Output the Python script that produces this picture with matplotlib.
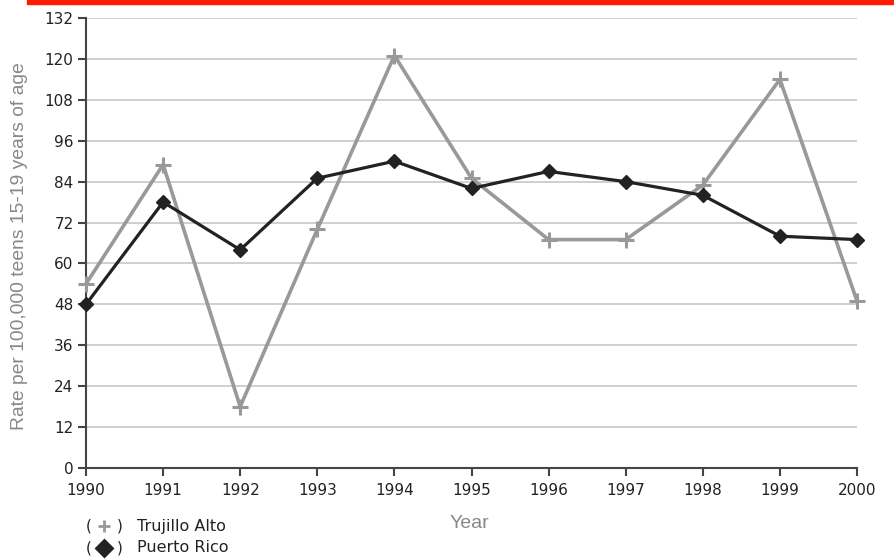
import matplotlib.pyplot as plt
from matplotlib.lines import Line2D
from matplotlib.patches import Rectangle

# Data
years = [1990, 1991, 1992, 1993, 1994, 1995, 1996, 1997, 1998, 1999, 2000]
trujillo_alto = [54, 89, 18, 70, 121, 85, 67, 67, 83, 114, 49]
puerto_rico = [48, 78, 64, 85, 90, 82, 87, 84, 80, 68, 67]
y_ticks = [0, 12, 24, 36, 48, 60, 72, 84, 96, 108, 120, 132]
y_labels = ['0', '12', '24', '36', '48', '60', '72', '84', '96', '108', '120', '132']

W, H = 894, 559
fig = plt.figure(figsize=(W / 100, H / 100), dpi=100)
ax = fig.add_axes([86 / W, 1 - 468 / H, (857 - 86) / W, (468 - 18) / H])

# red bar at the top
fig.patches.append(Rectangle((27 / W, 1 - 4 / H), 1 - 27 / W, 4 / H,
                             transform=fig.transFigure, color='#ff1a00', zorder=0))

ax.plot(years, trujillo_alto, color='#999999', lw=2.6, marker='+',
        markersize=11, markeredgewidth=2.2, zorder=3, clip_on=False)
ax.plot(years, puerto_rico, color='#222222', lw=2.3, marker='D',
        markersize=7.5, zorder=4, clip_on=False)

ax.set_xlim(1990, 2000)
ax.set_ylim(0, 132)
ax.set_xticks(years)
ax.set_xticklabels([str(y) for y in years], fontsize=11, color='#222222')
ax.set_yticks(y_ticks)
ax.set_yticklabels(y_labels, fontsize=11, color='#222222')
ax.yaxis.grid(True, color='#cccccc', lw=1.3)
ax.set_axisbelow(True)
for s in ['top', 'right']:
    ax.spines[s].set_visible(False)
for s in ['left', 'bottom']:
    ax.spines[s].set_color('#444444')
    ax.spines[s].set_linewidth(1.5)
ax.tick_params(axis='x', direction='out', length=6, width=1.5, color='#444444', pad=5)
ax.tick_params(axis='y', direction='out', length=6, width=1.5, color='#444444', pad=3)

fig.text(20 / W, 1 - 246 / H, 'Rate per 100,000 teens 15-19 years of age',
         rotation=90, ha='center', va='center', fontsize=13.9,
         color='#888888', family='Liberation Sans')
fig.text(469 / W, 1 - 524 / H, 'Year', ha='center', va='center',
         fontsize=14, color='#888888', family='Liberation Sans')

# legend drawn by hand under the axis
for yy, name, mk, col, ms in [(526, 'Trujillo Alto', '+', '#999999', 9),
                              (548, 'Puerto Rico', 'D', '#222222', 8)]:
    fig.text(86 / W, 1 - yy / H, '(', ha='left', va='center', fontsize=11, color='#222222')
    fig.text(117 / W, 1 - yy / H, ')', ha='left', va='center', fontsize=11, color='#222222')
    fig.add_artist(Line2D([104 / W], [1 - yy / H], transform=fig.transFigure,
                          marker=mk, color=col, markersize=ms, markeredgewidth=2))
    fig.text(137 / W, 1 - yy / H, name, ha='left', va='center', fontsize=11.5, color='#222222')

fig.savefig('out.png', dpi=100)
